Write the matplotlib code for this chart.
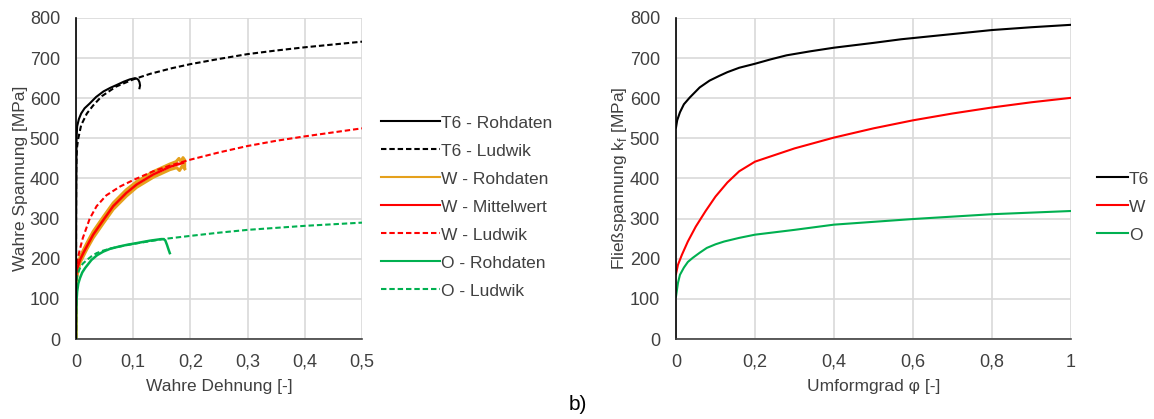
import numpy as np
import matplotlib
matplotlib.use("Agg")
import matplotlib.pyplot as plt
from matplotlib.lines import Line2D
from matplotlib.ticker import FuncFormatter, MultipleLocator

plt.rcParams['font.family'] = ['Liberation Sans', 'DejaVu Sans']

# ---- left chart: true stress-strain curves ----
t6_raw_x = [0, 0.0003, 0.001, 0.002, 0.005, 0.009, 0.015, 0.024, 0.035, 0.048, 0.06, 0.071, 0.083,
            0.094, 0.1, 0.103, 0.106, 0.109, 0.111, 0.112, 0.111]
t6_raw_y = [0, 300, 500, 530, 548, 562, 575, 587, 603, 617, 626, 633, 641,
            647, 649, 650, 649, 646, 640, 632, 625]
t6_lud_x = [0, 0.0001, 0.0004, 0.001, 0.002, 0.004, 0.009, 0.019, 0.03, 0.045, 0.07, 0.1, 0.13,
            0.168, 0.2, 0.25, 0.3, 0.35, 0.4, 0.45, 0.5]
t6_lud_y = [0, 300, 420, 458, 480, 500, 533, 562, 582, 605, 629, 647, 661,
            675, 685, 698, 710, 719, 727, 734, 741]

w_raw_a_x = [0, 0.0005, 0.002, 0.007, 0.019, 0.03, 0.048, 0.065, 0.088, 0.106, 0.135, 0.164, 0.175,
             0.18, 0.184, 0.187, 0.19, 0.19]
w_raw_a_y = [0, 150, 170, 205, 239, 268, 305, 339, 372, 392, 417, 436, 442,
             450, 441, 452, 446, 428]
w_raw_b_x = [0, 0.0005, 0.002, 0.007, 0.019, 0.03, 0.048, 0.065, 0.088, 0.106, 0.135, 0.164, 0.176,
             0.181, 0.186, 0.19]
w_raw_b_y = [0, 145, 160, 190, 224, 252, 289, 323, 356, 378, 403, 422, 427,
             420, 432, 424]
w_mean_x = [0, 0.002, 0.007, 0.013, 0.019, 0.03, 0.048, 0.065, 0.088, 0.106, 0.135, 0.164, 0.187]
w_mean_y = [156, 175, 197, 215, 231, 260, 297, 331, 364, 385, 410, 429, 439]
w_lud_x = [0, 0.0001, 0.0005, 0.001, 0.003, 0.007, 0.012, 0.016, 0.024, 0.036, 0.053, 0.077, 0.1,
           0.135, 0.164, 0.2, 0.25, 0.3, 0.35, 0.4, 0.45, 0.5]
w_lud_y = [0, 100, 150, 177, 200, 225, 252, 268, 300, 331, 358, 380, 396,
           418, 432, 447, 465, 481, 494, 505, 515, 525]

o_raw_x = [0, 0.0003, 0.001, 0.002, 0.004, 0.007, 0.011, 0.016, 0.027, 0.037, 0.048, 0.06, 0.077,
           0.09, 0.106, 0.129, 0.149, 0.153, 0.156, 0.159, 0.162, 0.164]
o_raw_y = [0, 60, 95, 118, 138, 152, 166, 177, 197, 209, 218, 225, 231,
           235, 239, 245, 249, 249, 246, 235, 222, 214]
o_lud_x = [0, 0.0001, 0.0005, 0.001, 0.003, 0.007, 0.012, 0.019, 0.027, 0.036, 0.047, 0.059, 0.075,
           0.1, 0.152, 0.2, 0.25, 0.3, 0.35, 0.4, 0.45, 0.5]
o_lud_y = [0, 90, 130, 147, 163, 177, 188, 197, 206, 214, 220, 225, 230,
           237, 249, 257, 265, 272, 277, 282, 286, 290]

# ---- right chart: flow curves ----
phi_t6 = [0, 0.003, 0.01, 0.02, 0.035, 0.05, 0.06, 0.085, 0.11, 0.13, 0.16, 0.2, 0.24, 0.28, 0.34,
          0.4, 0.5, 0.57, 0.7, 0.8, 0.9, 1.0]
kf_t6 = [527, 545, 565, 585, 602, 617, 627, 644, 656, 665, 676, 686, 697, 707, 717,
         726, 738, 747, 760, 770, 777, 783]
phi_w = [0, 0.005, 0.015, 0.03, 0.05, 0.075, 0.1, 0.13, 0.16, 0.2, 0.3, 0.4, 0.5, 0.6, 0.7, 0.8, 0.9, 1.0]
kf_w = [162, 185, 210, 243, 280, 319, 355, 390, 418, 442, 475, 502, 525, 545, 562, 577, 590, 601]
phi_o = [0, 0.005, 0.01, 0.02, 0.03, 0.042, 0.06, 0.078, 0.1, 0.122, 0.16, 0.2, 0.3, 0.4, 0.5, 0.6, 0.7, 0.8, 0.9, 1.0]
kf_o = [106, 140, 160, 178, 192, 202, 215, 227, 236, 243, 252, 260, 272, 285, 292, 299, 305, 311, 315, 319]

BLACK = '#000000'
RED = '#FF0000'
ORANGE = '#E5A11C'
GREEN = '#00B050'
GRID = '#D9D9D9'
TXT = '#404040'
FS = 12.5
TFS = 13

fig = plt.figure(figsize=(11.54, 4.19), dpi=100)
W, H = 1154, 419
ax1 = fig.add_axes([76 / W, (H - 339) / H, 286 / W, 321 / H])
ax2 = fig.add_axes([676 / W, (H - 339) / H, 395 / W, 321 / H])

comma = FuncFormatter(lambda v, p: ('%g' % round(v, 3)).replace('.', ','))
dash = (0, (2.6, 1.4))


def style(ax, xmax, xstep):
    ax.set_xlim(0, xmax)
    ax.set_ylim(0, 800)
    ax.xaxis.set_major_locator(MultipleLocator(xstep))
    ax.yaxis.set_major_locator(MultipleLocator(100))
    ax.xaxis.set_major_formatter(comma)
    ax.grid(True, color=GRID, lw=1.2)
    ax.set_axisbelow(True)
    for s in ['top', 'right']:
        ax.spines[s].set_visible(False)
    ax.spines['left'].set_color(BLACK)
    ax.spines['bottom'].set_color('#404040')
    ax.spines['left'].set_linewidth(1.2)
    ax.spines['bottom'].set_linewidth(1.2)
    ax.tick_params(length=0, labelsize=TFS, colors=TXT)
    ax.tick_params(axis='x', pad=10.5)
    ax.tick_params(axis='y', pad=11.5)


style(ax1, 0.5, 0.1)
style(ax2, 1.0, 0.2)

lw = 1.5
ax1.plot(t6_raw_x, t6_raw_y, color=BLACK, lw=lw, zorder=5)
ax1.plot(t6_lud_x, t6_lud_y, color=BLACK, lw=lw, ls=dash, zorder=4)
ax1.plot(w_raw_a_x, w_raw_a_y, color=ORANGE, lw=2.2, zorder=2)
ax1.plot(w_raw_b_x, w_raw_b_y, color=ORANGE, lw=2.2, zorder=2)
ax1.plot(w_mean_x, w_mean_y, color=RED, lw=lw + 0.3, zorder=3)
ax1.plot(w_lud_x, w_lud_y, color=RED, lw=lw, ls=dash, zorder=3)
ax1.plot(o_raw_x, o_raw_y, color=GREEN, lw=lw + 0.3, zorder=3)
ax1.plot(o_lud_x, o_lud_y, color=GREEN, lw=lw, ls=dash, zorder=3)

ax1.set_xlabel('Wahre Dehnung [-]', fontsize=FS, color=TXT, labelpad=6)
ax1.set_ylabel('Wahre Spannung [MPa]', fontsize=FS, color=TXT, labelpad=1)

handles1 = [Line2D([], [], color=BLACK, lw=lw), Line2D([], [], color=BLACK, lw=lw, ls=dash),
            Line2D([], [], color=ORANGE, lw=lw), Line2D([], [], color=RED, lw=lw),
            Line2D([], [], color=RED, lw=lw, ls=dash), Line2D([], [], color=GREEN, lw=lw),
            Line2D([], [], color=GREEN, lw=lw, ls=dash)]
labels1 = ['T6 - Rohdaten', 'T6 - Ludwik', 'W - Rohdaten', 'W - Mittelwert',
           'W - Ludwik', 'O - Rohdaten', 'O - Ludwik']
leg1 = fig.legend(handles1, labels1, loc='center left', bbox_to_anchor=(381 / W, 1 - 207 / H),
                  frameon=False, fontsize=FS, handlelength=3.4, handletextpad=0.05,
                  labelspacing=0.74, borderaxespad=0, borderpad=0)
for t in leg1.get_texts():
    t.set_color(TXT)

ax2.plot(phi_t6, kf_t6, color=BLACK, lw=lw)
ax2.plot(phi_w, kf_w, color=RED, lw=lw)
ax2.plot(phi_o, kf_o, color=GREEN, lw=lw)
ax2.set_xlabel('Umformgrad φ [-]', fontsize=FS, color=TXT, labelpad=6)
ax2.set_ylabel('Fließspannung k$_\\mathregular{f}$ [MPa]', fontsize=FS, color=TXT, labelpad=0.8)

handles2 = [Line2D([], [], color=c, lw=lw) for c in (BLACK, RED, GREEN)]
leg2 = fig.legend(handles2, ['T6', 'W', 'O'], loc='center left',
                  bbox_to_anchor=(1097 / W, 1 - 207 / H), frameon=False,
                  fontsize=FS, handlelength=1.8, handletextpad=0.05,
                  labelspacing=0.74, borderaxespad=0, borderpad=0)
for t in leg2.get_texts():
    t.set_color(TXT)

fig.text(578 / W, 1 - 404 / H, 'b)', fontsize=15, color='#000000', ha='center', va='center')

fig.savefig('out.png', dpi=100)
